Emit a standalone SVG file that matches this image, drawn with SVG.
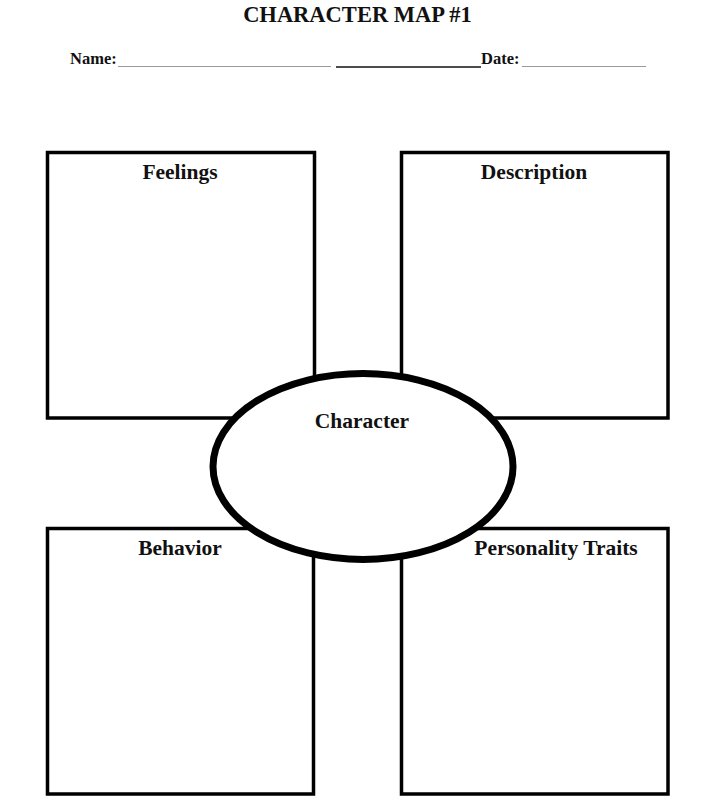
<svg xmlns="http://www.w3.org/2000/svg" width="716" height="808" viewBox="0 0 716 808">
<style>
.t{font-family:"Liberation Serif","Times New Roman",serif;font-weight:bold;fill:#111}
.box{fill:none;stroke:#000;stroke-width:3.5}
.lbl{font-size:21.5px;text-anchor:middle}
</style>
<rect width="716" height="808" fill="#fff"/>
<g id="header">
<text class="t" x="357.5" y="22" font-size="22.5" text-anchor="middle">CHARACTER MAP #1</text>
<text class="t" x="70" y="64" font-size="16.5">Name:</text>
<line x1="118" y1="66.5" x2="331" y2="66.5" stroke="#999" stroke-width="1"/>
<line x1="336" y1="67" x2="481" y2="67" stroke="#111" stroke-width="1.5"/>
<text class="t" x="481" y="64" font-size="16.5">Date:</text>
<line x1="522" y1="66.5" x2="646" y2="66.5" stroke="#999" stroke-width="1"/>
</g>
<g id="connectors"></g>
<g id="feelings">
<rect class="box" x="47.5" y="152.5" width="267" height="265.5"/>
<text class="t lbl" x="180" y="179">Feelings</text>
</g>
<g id="description">
<rect class="box" x="401.5" y="152.5" width="266.5" height="265.5"/>
<text class="t lbl" x="534" y="179">Description</text>
</g>
<g id="behavior">
<rect class="box" x="47.5" y="528.5" width="266" height="265.5"/>
<text class="t lbl" x="180" y="555">Behavior</text>
</g>
<g id="personality">
<rect class="box" x="401.5" y="528.5" width="266.5" height="265.5"/>
<text class="t lbl" x="556" y="555">Personality Traits</text>
</g>
<g id="character">
<ellipse cx="363" cy="466.5" rx="150" ry="93" fill="#fff" stroke="#000" stroke-width="7"/>
<text class="t lbl" x="362" y="428">Character</text>
</g>
</svg>
